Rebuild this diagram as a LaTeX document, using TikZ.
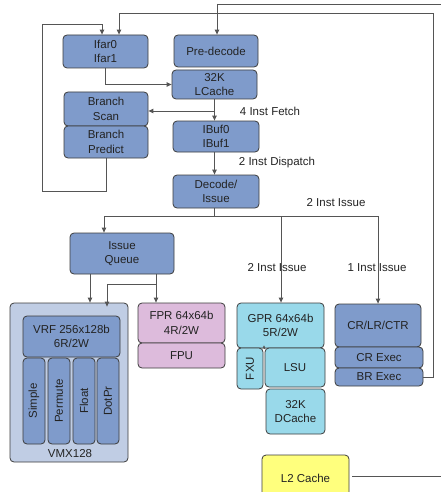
\documentclass[tikz,border=0pt]{standalone}
\usepackage{fontspec}
\setmainfont{Liberation Sans}
\usetikzlibrary{arrows.meta}
\definecolor{bfill}{RGB}{127,155,203}
\definecolor{vfill}{RGB}{192,205,228}
\definecolor{pfill}{RGB}{221,187,220}
\definecolor{cfill}{RGB}{153,217,234}
\definecolor{yfill}{RGB}{255,255,125}
\definecolor{edge}{RGB}{60,60,60}
\definecolor{wire}{RGB}{85,85,85}
\definecolor{txt}{RGB}{35,35,35}
\begin{document}
\begin{tikzpicture}[x=1pt,y=-1pt,
  box/.style={draw=edge,line width=0.8pt,rounded corners=4pt,fill=bfill,inner sep=0pt,
    align=center,text=txt,font=\fontsize{11.5}{14.5}\selectfont},
  vbox/.style={box,fill=vfill},
  pbox/.style={box,fill=pfill},
  cbox/.style={box,fill=cfill},
  ybox/.style={box,fill=yfill},
  wire/.style={draw=wire,line width=0.9pt},
  arr/.style={wire,-{Triangle[length=5pt,width=4.5pt]}},
  lbl/.style={text=txt,font=\fontsize{11.5}{14}\selectfont,inner sep=0pt}]
\useasboundingbox (0,0) rectangle (441,492);
% boxes
\node[box,minimum width=85pt,minimum height=33pt] (ifar) at (105.5,51.5) {Ifar0\\Ifar1};
\node[box,minimum width=84pt,minimum height=32pt] (pred) at (216,51) {Pre-decode};
\node[box,minimum width=85pt,minimum height=29pt] (lcache) at (214.5,84.5) {32K\\LCache};
\node[box,minimum width=84pt,minimum height=34pt] (bscan) at (106,109) {Branch\\Scan};
\node[box,minimum width=84pt,minimum height=32pt] (bpred) at (106,142) {Branch\\Predict};
\node[box,minimum width=86pt,minimum height=31pt] (ibuf) at (216,136.5) {IBuf0\\IBuf1};
\node[box,minimum width=86pt,minimum height=33pt] (dec) at (216,191.5) {Decode/\\Issue};
\node[box,minimum width=104pt,minimum height=41pt] (iq) at (122,253.5) {Issue\\Queue};
\node[vbox,minimum width=118pt,minimum height=159pt] (vmx) at (69,382.5) {};
\node[lbl] (vmxl) at (70,454) {VMX128};
\node[box,minimum width=97pt,minimum height=41pt] (vrf) at (71.5,336.5) {VRF 256x128b\\6R/2W};
\node[box,minimum width=22pt,minimum height=86pt] (simple) at (34,401) {};
\node[box,minimum width=22pt,minimum height=86pt] (perm) at (59,401) {};
\node[box,minimum width=22pt,minimum height=86pt] (float) at (84,401) {};
\node[box,minimum width=22pt,minimum height=86pt] (dotpr) at (108,401) {};
\node[lbl,rotate=90] (simplet) at (simple) {Simple};
\node[lbl,rotate=90] (permt) at (perm) {Permute};
\node[lbl,rotate=90] (floatt) at (float) {Float};
\node[lbl,rotate=90] (dotprt) at (dotpr) {DotPr};
\node[pbox,minimum width=87pt,minimum height=40pt] (fpr) at (181.5,323) {FPR 64x64b\\4R/2W};
\node[pbox,minimum width=87pt,minimum height=25pt] (fpu) at (181.5,355.5) {FPU};
\node[cbox,minimum width=87pt,minimum height=45pt] (gpr) at (280.5,325.5) {GPR 64x64b\\5R/2W};
\node[cbox,minimum width=26pt,minimum height=41pt] (fxu) at (250,368.5) {};
\node[lbl,rotate=90] (fxut) at (fxu) {FXU};
\node[cbox,minimum width=60pt,minimum height=39pt] (lsu) at (295,367.5) {LSU};
\node[cbox,minimum width=59pt,minimum height=45pt] (dcache) at (295.5,411.5) {32K\\DCache};
\node[box,minimum width=86pt,minimum height=43pt] (crlr) at (378,325.5) {CR/LR/CTR};
\node[box,minimum width=88pt,minimum height=21pt] (crex) at (379,357.5) {CR Exec};
\node[box,minimum width=88pt,minimum height=18pt] (brex) at (379,377) {BR Exec};
\node[ybox,minimum width=87pt,minimum height=46pt] (l2) at (305.5,478) {L2 Cache};
% coordinates
\coordinate (fbR) at (433,13);
\coordinate (fbL) at (119,13);
\coordinate (topL) at (217,4);
\coordinate (topR) at (441,4);
\coordinate (l2R) at (441,476);
\coordinate (bpA) at (42,191);
\coordinate (bpB) at (42,24);
\coordinate (bpC) at (102,24);
\coordinate (ds) at (104,216);
\coordinate (dsR) at (378,216);
\coordinate (gx) at (281,216);
\coordinate (iqL) at (90,0);
\coordinate (iqR) at (156,0);
\coordinate (iqB) at (107,284);
\coordinate (gsub) at (264,0);
% labels
\node[lbl] (l1) at (270,111) {4 Inst Fetch};
\node[lbl] (l2l) at (277,163) {2 Inst Dispatch};
\node[lbl] (l3) at (336,203) {2 Inst Issue};
\node[lbl] (l4) at (277,268) {2 Inst Issue};
\node[lbl] (l5) at (377,268) {1 Inst Issue};
% connectors
\draw[arr] (brex.east) -| (fbR) -- (fbL) -- (ifar.north -| fbL);
\draw[wire] (topR) -- (topL);
\draw[arr] (topL) -- (pred.north -| topL);
\draw[wire] ([xshift=3pt]l2.east |- l2R) -- (l2R);
\draw[arr] (ifar.south) |- (lcache.west);
\draw[arr] (lcache.south) |- ([yshift=-2pt]bscan.east);
\draw[arr] (lcache.south) -- (lcache.south |- ibuf.north);
\draw[arr] (ibuf.south -| lcache.south) -- (dec.north -| lcache.south);
\draw[arr] (bpred.south) |- (bpA) -- (bpB) -- (bpC) -- (ifar.north -| bpC);
\draw[wire] (dec.south -| lcache.south) |- (ds);
\draw[arr] (ds) -- (iq.north -| ds);
\draw[wire] (dec.south -| lcache.south) |- (dsR);
\draw[arr] (gx) -- (gpr.north -| gx);
\draw[arr] (dsR) -- (crlr.north -| dsR);
\draw[arr] (iq.south -| iqL) -- (vmx.north -| iqL);
\draw[arr] (iq.south -| iqR) -- (fpr.north -| iqR);
\draw[arr] (iqB -| iqR) -- (iqB) -- ([yshift=-4pt]vmx.north -| iqB);
\draw[-{Triangle[length=3pt,width=3pt]},draw=wire,line width=0.6pt] ([yshift=-1pt]gpr.south -| gsub) -- ([yshift=3pt]gpr.south -| gsub);
\end{tikzpicture}
\end{document}
